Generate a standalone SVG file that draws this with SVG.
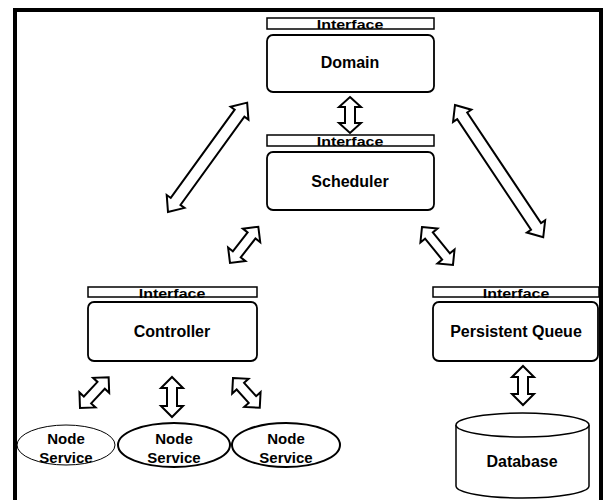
<svg xmlns="http://www.w3.org/2000/svg" width="605" height="500" viewBox="0 0 605 500">
<style>
.bar{fill:#fff;stroke:#000;stroke-width:1.5}
.box{fill:#fff;stroke:#000;stroke-width:1.8}
.lbl{font-family:"Liberation Sans",Arial,sans-serif;font-weight:bold;font-size:16px;fill:#000;text-anchor:middle}
.sm{font-size:15px}
.arr{fill:#fff;stroke:#000;stroke-width:2;stroke-linejoin:miter}
</style>
<rect width="605" height="500" fill="#fff"/>
<path d="M15,500 V10 H601 V500" fill="none" stroke="#000" stroke-width="4"/>

<g id="domain">
<rect class="bar" x="267" y="18" width="167" height="11"/>
<text class="lbl" transform="translate(350,28.5) scale(1,0.8)">Interface</text>
<rect class="box" x="267" y="35" width="167" height="57" rx="6"/>
<text class="lbl" x="350" y="68">Domain</text>
</g>

<g id="scheduler">
<rect class="bar" x="267" y="135" width="167" height="11"/>
<text class="lbl" transform="translate(350,145.5) scale(1,0.8)">Interface</text>
<rect class="box" x="267" y="152" width="167" height="58" rx="6"/>
<text class="lbl" x="350" y="187">Scheduler</text>
</g>

<g id="controller">
<rect class="bar" x="88" y="287" width="169" height="10"/>
<text class="lbl" transform="translate(172,297.5) scale(1,0.8)">Interface</text>
<rect class="box" x="88" y="302" width="169" height="59" rx="6"/>
<text class="lbl" x="172" y="337">Controller</text>
</g>

<g id="queue">
<rect class="bar" x="433" y="287" width="166" height="10"/>
<text class="lbl" transform="translate(516,297.5) scale(1,0.8)">Interface</text>
<rect class="box" x="433" y="302" width="165" height="59" rx="6"/>
<text class="lbl" x="516" y="337">Persistent Queue</text>
</g>

<g id="node1">
<ellipse cx="66" cy="445" rx="49" ry="20" fill="#fff" stroke="#000" stroke-width="1"/>
<text class="lbl sm" x="66" y="444">Node</text>
<text class="lbl sm" x="66" y="463">Service</text>
</g>
<g id="node2">
<ellipse cx="174" cy="445" rx="56" ry="22" fill="#fff" stroke="#000" stroke-width="2"/>
<text class="lbl sm" x="174" y="444">Node</text>
<text class="lbl sm" x="174" y="463">Service</text>
</g>
<g id="node3">
<ellipse cx="286" cy="445" rx="54" ry="22" fill="#fff" stroke="#000" stroke-width="2"/>
<text class="lbl sm" x="286" y="444">Node</text>
<text class="lbl sm" x="286" y="463">Service</text>
</g>

<g id="database">
<path d="M456,425 V486 A66.5,12 0 0 0 589,486 V425" fill="#fff" stroke="#000" stroke-width="1.5"/>
<ellipse cx="522.5" cy="425" rx="66.5" ry="12" fill="#fff" stroke="#000" stroke-width="1.5"/>
<text class="lbl" x="522" y="467">Database</text>
</g>

<g id="connectors">
<path class="arr" transform="translate(168,212) rotate(-54.1)" d="M0,0 L13,-11 L13,-6 L122,-6 L122,-11 L135,0 L122,11 L122,6 L13,6 L13,11 Z"/>
<path class="arr" transform="translate(230,263) rotate(-52)" d="M0,0 L11,-11 L11,-5 L35,-5 L35,-11 L46,0 L35,11 L35,5 L11,5 L11,11 Z"/>
<path class="arr" transform="translate(455,105) rotate(56.3)" d="M0,0 L13,-11 L13,-6 L146,-6 L146,-11 L159,0 L146,11 L146,6 L13,6 L13,11 Z"/>
<path class="arr" transform="translate(422,227) rotate(50.8)" d="M0,0 L11,-11 L11,-5 L38,-5 L38,-11 L49,0 L38,11 L38,5 L11,5 L11,11 Z"/>
<path class="arr" transform="translate(350,97) rotate(90)" d="M0,0 L10,-11 L10,-5 L26,-5 L26,-11 L36,0 L26,11 L26,5 L10,5 L10,11 Z"/>
<path class="arr" transform="translate(80,408) rotate(-47)" d="M0,0 L11,-11 L11,-5 L31,-5 L31,-11 L42,0 L31,11 L31,5 L11,5 L11,11 Z"/>
<path class="arr" transform="translate(172,377) rotate(90)" d="M0,0 L11,-11 L11,-5 L29,-5 L29,-11 L40,0 L29,11 L29,5 L11,5 L11,11 Z"/>
<path class="arr" transform="translate(233,378) rotate(48)" d="M0,0 L11,-11 L11,-5 L29,-5 L29,-11 L40,0 L29,11 L29,5 L11,5 L11,11 Z"/>
<path class="arr" transform="translate(523,366) rotate(90)" d="M0,0 L11,-11 L11,-5 L28,-5 L28,-11 L39,0 L28,11 L28,5 L11,5 L11,11 Z"/>
</g>
</svg>
